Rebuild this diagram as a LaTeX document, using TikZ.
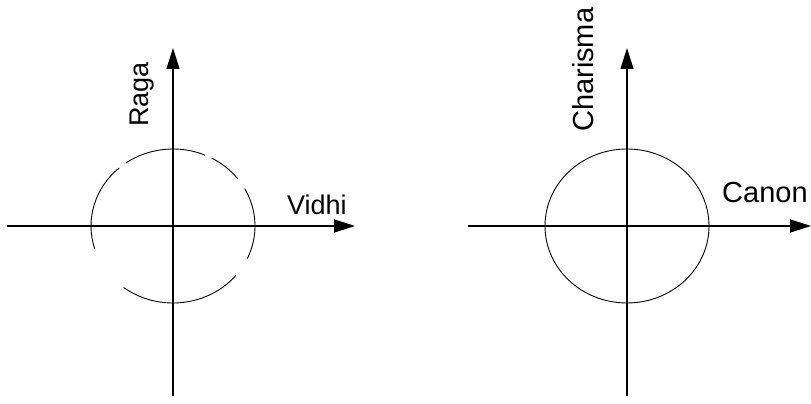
\documentclass[tikz,border=0pt]{standalone}
\usepackage{fontspec}
\setmainfont{Liberation Sans}
\usetikzlibrary{arrows.meta}
\begin{document}
\begin{tikzpicture}[x=1pt,y=1pt,
  axis/.style={line width=1.8pt,-{Triangle[length=21pt,width=13pt]}},
  vaxis/.style={line width=1.4pt,-{Triangle[length=21pt,width=13pt]}},
  ring/.style={line width=0.9pt},
  lab/.style={inner sep=0pt,font=\fontsize{27}{27}\selectfont},
  labr/.style={inner sep=0pt,font=\fontsize{29}{29}\selectfont}]
\useasboundingbox (0,0) rectangle (811,404);
% left diagram
\coordinate (L0) at (173,178);
\coordinate (Lw) at (7,178);
\coordinate (Le) at (355,178);
\coordinate (Ls) at (173,8);
\coordinate (Ln) at (173,356);
\draw[axis] (Lw) -- (Le);
\draw[vaxis] (Ls) -- (Ln);
\foreach \a/\b in {67/125,131/197,233/320,335/389,38/62}{
  \draw[ring] ([shift={(\a:82 and 77)}]L0) arc[start angle=\a,end angle=\b,x radius=82,y radius=77];
}
\node[lab,anchor=base west,rotate=90] (raga) at (148,277) {Raga};
\node[lab,anchor=base west] (vidhi) at (287,189) {Vidhi};
% right diagram
\coordinate (R0) at (627,178);
\coordinate (Rw) at (468,178);
\coordinate (Re) at (811,178);
\coordinate (Rs) at (627,8);
\coordinate (Rn) at (627,356);
\draw[axis] (Rw) -- (Re);
\draw[vaxis] (Rs) -- (Rn);
\draw[ring] (R0) ellipse[x radius=82,y radius=77];
\node[labr,anchor=base west,rotate=90] (charisma) at (593,272) {Charisma};
\node[labr,anchor=base west] (canon) at (722,201) {Canon};
\end{tikzpicture}
\end{document}
